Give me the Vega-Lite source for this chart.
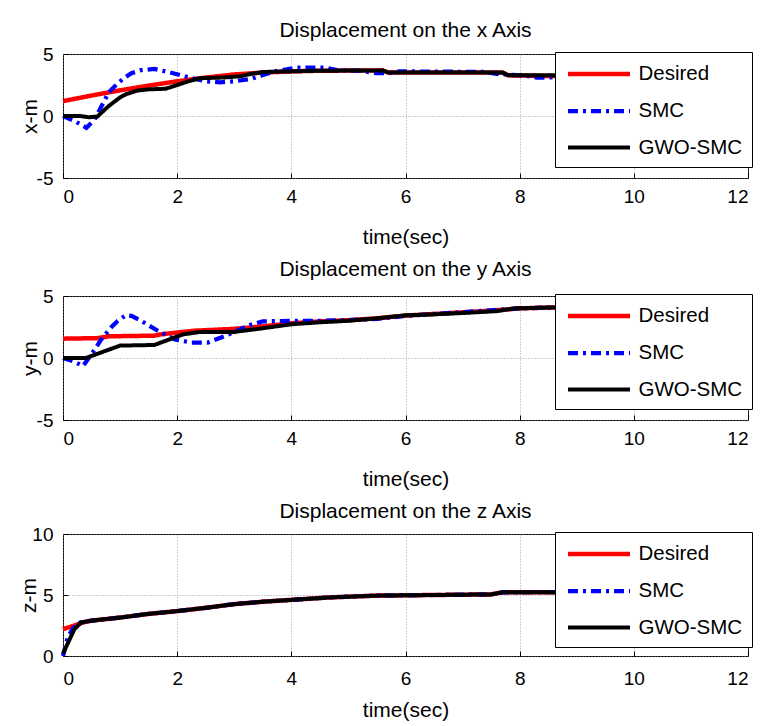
{
  "$schema": "https://vega.github.io/schema/vega-lite/v6.json",
  "background": "white",
  "padding": {"left": 18, "top": 19, "right": 2, "bottom": 2},
  "spacing": 10,
  "datasets": {
    "xd": [
      {"t": 0, "v": 1.2, "s": "Desired"}, {"t": 0.5, "v": 1.65, "s": "Desired"}, {"t": 1, "v": 2.07, "s": "Desired"}, {"t": 1.5, "v": 2.45, "s": "Desired"}, {"t": 2, "v": 2.8, "s": "Desired"}, {"t": 2.5, "v": 3.1, "s": "Desired"}, {"t": 3, "v": 3.35, "s": "Desired"}, {"t": 3.5, "v": 3.5, "s": "Desired"}, {"t": 4, "v": 3.6, "s": "Desired"}, {"t": 4.5, "v": 3.65, "s": "Desired"}, {"t": 5.6, "v": 3.68, "s": "Desired"}, {"t": 5.7, "v": 3.5, "s": "Desired"}, {"t": 7.7, "v": 3.5, "s": "Desired"}, {"t": 7.8, "v": 3.28, "s": "Desired"}, {"t": 8.6, "v": 3.22, "s": "Desired"}, {"t": 10, "v": 3.15, "s": "Desired"},
      {"t": 0, "v": 0, "s": "SMC"}, {"t": 0.2, "v": -0.4, "s": "SMC"}, {"t": 0.41, "v": -0.95, "s": "SMC"}, {"t": 0.55, "v": -0.3, "s": "SMC"}, {"t": 0.7, "v": 1.0, "s": "SMC"}, {"t": 0.8, "v": 1.9, "s": "SMC"}, {"t": 0.95, "v": 2.6, "s": "SMC"}, {"t": 1.08, "v": 3.1, "s": "SMC"}, {"t": 1.2, "v": 3.45, "s": "SMC"}, {"t": 1.37, "v": 3.7, "s": "SMC"}, {"t": 1.6, "v": 3.8, "s": "SMC"}, {"t": 1.84, "v": 3.55, "s": "SMC"}, {"t": 2.07, "v": 3.28, "s": "SMC"}, {"t": 2.3, "v": 3.0, "s": "SMC"}, {"t": 2.5, "v": 2.8, "s": "SMC"}, {"t": 2.75, "v": 2.72, "s": "SMC"}, {"t": 3.0, "v": 2.8, "s": "SMC"}, {"t": 3.3, "v": 3.0, "s": "SMC"}, {"t": 3.5, "v": 3.3, "s": "SMC"}, {"t": 3.72, "v": 3.6, "s": "SMC"}, {"t": 4.1, "v": 3.9, "s": "SMC"}, {"t": 4.6, "v": 3.9, "s": "SMC"}, {"t": 4.8, "v": 3.7, "s": "SMC"}, {"t": 5.2, "v": 3.65, "s": "SMC"}, {"t": 5.5, "v": 3.45, "s": "SMC"}, {"t": 5.7, "v": 3.45, "s": "SMC"}, {"t": 5.9, "v": 3.6, "s": "SMC"}, {"t": 7.4, "v": 3.55, "s": "SMC"}, {"t": 7.6, "v": 3.4, "s": "SMC"}, {"t": 8.1, "v": 3.25, "s": "SMC"}, {"t": 8.3, "v": 3.1, "s": "SMC"}, {"t": 10, "v": 3.15, "s": "SMC"},
      {"t": 0, "v": 0, "s": "GWO-SMC"}, {"t": 0.3, "v": 0, "s": "GWO-SMC"}, {"t": 0.45, "v": -0.1, "s": "GWO-SMC"}, {"t": 0.6, "v": -0.05, "s": "GWO-SMC"}, {"t": 0.8, "v": 0.8, "s": "GWO-SMC"}, {"t": 1.0, "v": 1.5, "s": "GWO-SMC"}, {"t": 1.1, "v": 1.75, "s": "GWO-SMC"}, {"t": 1.3, "v": 2.05, "s": "GWO-SMC"}, {"t": 1.5, "v": 2.15, "s": "GWO-SMC"}, {"t": 1.8, "v": 2.2, "s": "GWO-SMC"}, {"t": 2.0, "v": 2.5, "s": "GWO-SMC"}, {"t": 2.2, "v": 2.8, "s": "GWO-SMC"}, {"t": 2.4, "v": 3.05, "s": "GWO-SMC"}, {"t": 2.8, "v": 3.1, "s": "GWO-SMC"}, {"t": 3.1, "v": 3.2, "s": "GWO-SMC"}, {"t": 3.3, "v": 3.4, "s": "GWO-SMC"}, {"t": 3.5, "v": 3.55, "s": "GWO-SMC"}, {"t": 4.0, "v": 3.6, "s": "GWO-SMC"}, {"t": 4.5, "v": 3.65, "s": "GWO-SMC"}, {"t": 5.6, "v": 3.68, "s": "GWO-SMC"}, {"t": 5.7, "v": 3.5, "s": "GWO-SMC"}, {"t": 7.7, "v": 3.5, "s": "GWO-SMC"}, {"t": 7.8, "v": 3.28, "s": "GWO-SMC"}, {"t": 8.6, "v": 3.28, "s": "GWO-SMC"}, {"t": 8.7, "v": 3.17, "s": "GWO-SMC"}, {"t": 10, "v": 3.17, "s": "GWO-SMC"}
    ],
    "yd": [
      {"t": 0, "v": 1.56, "s": "Desired"}, {"t": 0.6, "v": 1.6, "s": "Desired"}, {"t": 0.8, "v": 1.75, "s": "Desired"}, {"t": 1.6, "v": 1.8, "s": "Desired"}, {"t": 1.7, "v": 1.9, "s": "Desired"}, {"t": 2.0, "v": 2.05, "s": "Desired"}, {"t": 2.3, "v": 2.2, "s": "Desired"}, {"t": 3.0, "v": 2.35, "s": "Desired"}, {"t": 3.5, "v": 2.55, "s": "Desired"}, {"t": 4.0, "v": 2.8, "s": "Desired"}, {"t": 4.5, "v": 2.95, "s": "Desired"}, {"t": 5.0, "v": 3.05, "s": "Desired"}, {"t": 5.5, "v": 3.2, "s": "Desired"}, {"t": 6.0, "v": 3.42, "s": "Desired"}, {"t": 6.5, "v": 3.55, "s": "Desired"}, {"t": 7.0, "v": 3.68, "s": "Desired"}, {"t": 7.5, "v": 3.82, "s": "Desired"}, {"t": 8.0, "v": 4.0, "s": "Desired"}, {"t": 8.6, "v": 4.08, "s": "Desired"}, {"t": 10, "v": 4.12, "s": "Desired"},
      {"t": 0, "v": 0, "s": "SMC"}, {"t": 0.2, "v": -0.3, "s": "SMC"}, {"t": 0.35, "v": -0.65, "s": "SMC"}, {"t": 0.5, "v": 0.3, "s": "SMC"}, {"t": 0.67, "v": 1.5, "s": "SMC"}, {"t": 0.85, "v": 2.5, "s": "SMC"}, {"t": 0.96, "v": 3.0, "s": "SMC"}, {"t": 1.1, "v": 3.45, "s": "SMC"}, {"t": 1.2, "v": 3.4, "s": "SMC"}, {"t": 1.37, "v": 3.0, "s": "SMC"}, {"t": 1.66, "v": 2.2, "s": "SMC"}, {"t": 1.96, "v": 1.5, "s": "SMC"}, {"t": 2.24, "v": 1.25, "s": "SMC"}, {"t": 2.54, "v": 1.25, "s": "SMC"}, {"t": 2.83, "v": 1.75, "s": "SMC"}, {"t": 3.07, "v": 2.25, "s": "SMC"}, {"t": 3.3, "v": 2.7, "s": "SMC"}, {"t": 3.5, "v": 2.95, "s": "SMC"}, {"t": 4.0, "v": 3.0, "s": "SMC"}, {"t": 4.5, "v": 3.0, "s": "SMC"}, {"t": 5.0, "v": 3.05, "s": "SMC"}, {"t": 5.5, "v": 3.15, "s": "SMC"}, {"t": 6.0, "v": 3.4, "s": "SMC"}, {"t": 6.5, "v": 3.55, "s": "SMC"}, {"t": 7.0, "v": 3.7, "s": "SMC"}, {"t": 7.5, "v": 3.85, "s": "SMC"}, {"t": 8.0, "v": 4.0, "s": "SMC"}, {"t": 8.6, "v": 4.08, "s": "SMC"}, {"t": 10, "v": 4.12, "s": "SMC"},
      {"t": 0, "v": 0, "s": "GWO-SMC"}, {"t": 0.4, "v": 0, "s": "GWO-SMC"}, {"t": 1.0, "v": 1.0, "s": "GWO-SMC"}, {"t": 1.6, "v": 1.05, "s": "GWO-SMC"}, {"t": 2.1, "v": 1.9, "s": "GWO-SMC"}, {"t": 2.4, "v": 2.1, "s": "GWO-SMC"}, {"t": 3.0, "v": 2.1, "s": "GWO-SMC"}, {"t": 3.5, "v": 2.4, "s": "GWO-SMC"}, {"t": 4.0, "v": 2.72, "s": "GWO-SMC"}, {"t": 4.5, "v": 2.88, "s": "GWO-SMC"}, {"t": 5.0, "v": 3.0, "s": "GWO-SMC"}, {"t": 5.5, "v": 3.2, "s": "GWO-SMC"}, {"t": 6.0, "v": 3.44, "s": "GWO-SMC"}, {"t": 6.5, "v": 3.52, "s": "GWO-SMC"}, {"t": 7.1, "v": 3.65, "s": "GWO-SMC"}, {"t": 7.6, "v": 3.78, "s": "GWO-SMC"}, {"t": 7.9, "v": 4.0, "s": "GWO-SMC"}, {"t": 8.6, "v": 4.08, "s": "GWO-SMC"}, {"t": 10, "v": 4.12, "s": "GWO-SMC"}
    ],
    "zd": [
      {"t": 0, "v": 2.2, "s": "Desired"}, {"t": 0.2, "v": 2.5, "s": "Desired"}, {"t": 0.35, "v": 2.75, "s": "Desired"}, {"t": 0.5, "v": 2.9, "s": "Desired"}, {"t": 1.0, "v": 3.15, "s": "Desired"}, {"t": 1.5, "v": 3.45, "s": "Desired"}, {"t": 2.0, "v": 3.68, "s": "Desired"}, {"t": 2.5, "v": 3.95, "s": "Desired"}, {"t": 3.0, "v": 4.25, "s": "Desired"}, {"t": 3.5, "v": 4.45, "s": "Desired"}, {"t": 4.0, "v": 4.6, "s": "Desired"}, {"t": 4.66, "v": 4.8, "s": "Desired"}, {"t": 5.5, "v": 4.95, "s": "Desired"}, {"t": 6.5, "v": 5.0, "s": "Desired"}, {"t": 7.5, "v": 5.05, "s": "Desired"}, {"t": 7.7, "v": 5.22, "s": "Desired"}, {"t": 10, "v": 5.25, "s": "Desired"},
      {"t": 0, "v": 0, "s": "SMC"}, {"t": 0.08, "v": 1.5, "s": "SMC"}, {"t": 0.18, "v": 2.3, "s": "SMC"}, {"t": 0.3, "v": 2.75, "s": "SMC"}, {"t": 0.5, "v": 2.9, "s": "SMC"}, {"t": 1.0, "v": 3.15, "s": "SMC"}, {"t": 1.5, "v": 3.45, "s": "SMC"}, {"t": 2.0, "v": 3.68, "s": "SMC"}, {"t": 2.5, "v": 3.95, "s": "SMC"}, {"t": 3.0, "v": 4.25, "s": "SMC"}, {"t": 3.5, "v": 4.45, "s": "SMC"}, {"t": 4.0, "v": 4.6, "s": "SMC"}, {"t": 4.66, "v": 4.8, "s": "SMC"}, {"t": 5.5, "v": 4.95, "s": "SMC"}, {"t": 6.5, "v": 5.0, "s": "SMC"}, {"t": 7.5, "v": 5.05, "s": "SMC"}, {"t": 7.7, "v": 5.22, "s": "SMC"}, {"t": 10, "v": 5.25, "s": "SMC"},
      {"t": 0, "v": 0.2, "s": "GWO-SMC"}, {"t": 0.1, "v": 1.2, "s": "GWO-SMC"}, {"t": 0.2, "v": 2.2, "s": "GWO-SMC"}, {"t": 0.32, "v": 2.75, "s": "GWO-SMC"}, {"t": 0.5, "v": 2.9, "s": "GWO-SMC"}, {"t": 1.0, "v": 3.15, "s": "GWO-SMC"}, {"t": 1.5, "v": 3.45, "s": "GWO-SMC"}, {"t": 2.0, "v": 3.68, "s": "GWO-SMC"}, {"t": 2.5, "v": 3.95, "s": "GWO-SMC"}, {"t": 3.0, "v": 4.25, "s": "GWO-SMC"}, {"t": 3.5, "v": 4.45, "s": "GWO-SMC"}, {"t": 4.0, "v": 4.6, "s": "GWO-SMC"}, {"t": 4.66, "v": 4.8, "s": "GWO-SMC"}, {"t": 5.5, "v": 4.95, "s": "GWO-SMC"}, {"t": 6.5, "v": 5.0, "s": "GWO-SMC"}, {"t": 7.5, "v": 5.05, "s": "GWO-SMC"}, {"t": 7.7, "v": 5.22, "s": "GWO-SMC"}, {"t": 10, "v": 5.25, "s": "GWO-SMC"}
    ]
  },
  "config": {
    "font": "Liberation Sans",
    "view": {"stroke": "black", "strokeWidth": 1},
    "axis": {"labelFontSize": 19, "titleFontSize": 21, "titleFontWeight": "normal", "labelColor": "black", "titleColor": "black", "domain": false, "tickColor": "black", "tickSize": -5, "gridColor": "#888888", "gridDash": [1, 2], "gridWidth": 0.8, "labelFont": "Liberation Sans", "titleFont": "Liberation Sans", "labelExpr": "'' + datum.value"},
    "axisX": {"titlePadding": 20, "labelPadding": 14},
    "axisY": {"titlePadding": -4, "labelPadding": 15},
    "title": {"fontSize": 21, "fontWeight": "normal", "color": "black", "font": "Liberation Sans", "frame": "group", "anchor": "middle"},
    "legend": {"orient": "none", "legendX": 492, "legendY": -2, "fillColor": "white", "strokeColor": "black", "padding": 9, "labelFontSize": 20.5, "labelColor": "black", "labelFont": "Liberation Sans", "symbolType": "M-0.87,0H5.13", "symbolSize": 427, "symbolStrokeWidth": 4.5, "rowPadding": 13.5, "labelOffset": 48.5, "labelLimit": 300, "cornerRadius": 0}
  },
  "resolve": {"scale": {"x": "independent", "y": "independent", "color": "independent", "strokeDash": "independent", "strokeWidth": "independent"}, "legend": {"color": "independent", "strokeDash": "independent"}},
  "vconcat": [
    {
      "title": {"text": "Displacement on the x Axis", "offset": 4},
      "width": 685, "height": 124,
      "data": {"name": "xd"},
      "mark": {"type": "line", "strokeCap": "butt", "strokeJoin": "miter"},
      "encoding": {
        "x": {"field": "t", "type": "quantitative", "scale": {"domain": [0, 12], "nice": false, "zero": false}, "axis": {"values": [0, 2, 4, 6, 8, 10, 12], "title": "time(sec)"}},
        "y": {"field": "v", "type": "quantitative", "scale": {"domain": [-5, 5], "nice": false, "zero": false}, "axis": {"values": [-5, 0, 5], "title": "x-m"}},
        "color": {"field": "s", "type": "nominal", "scale": {"domain": ["Desired", "SMC", "GWO-SMC"], "range": ["#ff0000", "#0000ff", "#000000"]}, "legend": {"title": null}},
        "strokeDash": {"field": "s", "type": "nominal", "scale": {"domain": ["Desired", "SMC", "GWO-SMC"], "range": [[1, 0], [10, 5, 3, 5], [1, 0]]}, "legend": {"title": null}},
        "strokeWidth": {"field": "s", "type": "nominal", "scale": {"domain": ["Desired", "SMC", "GWO-SMC"], "range": [4.5, 4, 5.5]}, "legend": null}
      }
    },
    {
      "title": {"text": "Displacement on the y Axis", "offset": 7},
      "width": 685, "height": 124,
      "data": {"name": "yd"},
      "mark": {"type": "line", "strokeCap": "butt", "strokeJoin": "miter"},
      "encoding": {
        "x": {"field": "t", "type": "quantitative", "scale": {"domain": [0, 12], "nice": false, "zero": false}, "axis": {"values": [0, 2, 4, 6, 8, 10, 12], "title": "time(sec)"}},
        "y": {"field": "v", "type": "quantitative", "scale": {"domain": [-5, 5], "nice": false, "zero": false}, "axis": {"values": [-5, 0, 5], "title": "y-m"}},
        "color": {"field": "s", "type": "nominal", "scale": {"domain": ["Desired", "SMC", "GWO-SMC"], "range": ["#ff0000", "#0000ff", "#000000"]}, "legend": {"title": null}},
        "strokeDash": {"field": "s", "type": "nominal", "scale": {"domain": ["Desired", "SMC", "GWO-SMC"], "range": [[1, 0], [10, 5, 3, 5], [1, 0]]}, "legend": {"title": null}},
        "strokeWidth": {"field": "s", "type": "nominal", "scale": {"domain": ["Desired", "SMC", "GWO-SMC"], "range": [4.5, 4, 5.5]}, "legend": null}
      }
    },
    {
      "title": {"text": "Displacement on the z Axis", "offset": 3},
      "width": 685, "height": 122,
      "data": {"name": "zd"},
      "mark": {"type": "line", "strokeCap": "butt", "strokeJoin": "miter"},
      "encoding": {
        "x": {"field": "t", "type": "quantitative", "scale": {"domain": [0, 12], "nice": false, "zero": false}, "axis": {"values": [0, 2, 4, 6, 8, 10, 12], "title": "time(sec)", "titlePadding": 11, "labelPadding": 18}},
        "y": {"field": "v", "type": "quantitative", "scale": {"domain": [0, 10], "nice": false, "zero": false}, "axis": {"values": [0, 5, 10], "title": "z-m", "titlePadding": -8}},
        "color": {"field": "s", "type": "nominal", "scale": {"domain": ["Desired", "SMC", "GWO-SMC"], "range": ["#ff0000", "#0000ff", "#000000"]}, "legend": {"title": null}},
        "strokeDash": {"field": "s", "type": "nominal", "scale": {"domain": ["Desired", "SMC", "GWO-SMC"], "range": [[1, 0], [10, 5, 3, 5], [1, 0]]}, "legend": {"title": null}},
        "strokeWidth": {"field": "s", "type": "nominal", "scale": {"domain": ["Desired", "SMC", "GWO-SMC"], "range": [4.5, 4, 5.5]}, "legend": null}
      }
    }
  ]
}
